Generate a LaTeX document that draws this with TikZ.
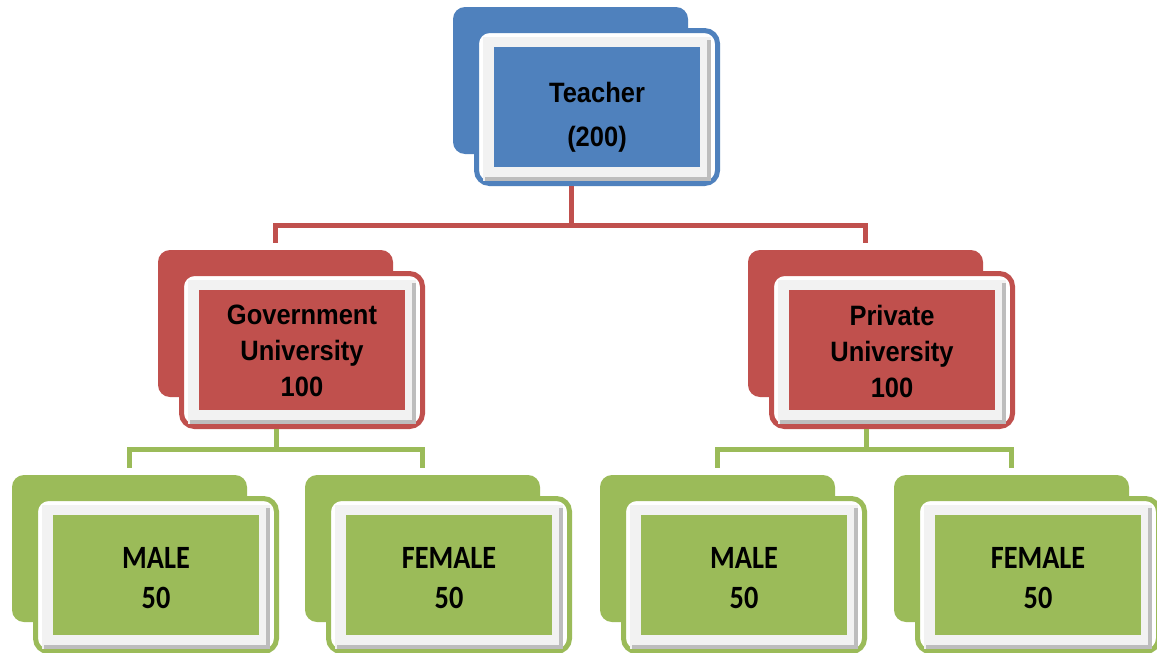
\documentclass[tikz,border=0pt]{standalone}
\usepackage{fontspec}
\setmainfont{Liberation Sans}
\newfontfamily\arialb[FakeStretch=0.91]{Liberation Sans}
\newfontfamily\calibb[FakeStretch=0.87]{Carlito}
\definecolor{cblue}{HTML}{4F81BD}
\definecolor{cred}{HTML}{C0504D}
\definecolor{cgreen}{HTML}{9BBB59}
\definecolor{cband}{HTML}{F2F2F2}
\definecolor{cshadow}{HTML}{BDBDBD}
\tikzset{
  backbox/.style={rectangle, anchor=north west, inner sep=0pt, outer sep=0pt,
    minimum width=235pt, minimum height=147pt, rounded corners=12pt},
  frontbox/.style={rectangle, anchor=north west, inner sep=0pt, outer sep=0pt,
    minimum width=241pt, minimum height=153pt, rounded corners=13pt, fill=white, line width=5pt},
  bandbox/.style={rectangle, anchor=north west, inner sep=0pt, outer sep=0pt,
    minimum width=228pt, minimum height=144pt, fill=cband},
  innerbox/.style={rectangle, anchor=north west, inner sep=0pt, outer sep=0pt,
    minimum width=206pt, minimum height=120pt},
  lbl/.style={align=center, inner sep=0pt, text=black},
  bluetxt/.style={font=\arialb\bfseries\fontsize{28}{44}\selectfont},
  redtxt/.style={font=\arialb\bfseries\fontsize{28}{36}\selectfont},
  greentxt/.style={font=\calibb\bfseries\fontsize{32.5}{40}\selectfont},
  redline/.style={draw=cred, line width=5pt},
  greenline/.style={draw=cgreen, line width=5pt},
}
% #1 name, #2 bx, #3 by, #4 colour, #5 text style, #6 text yshift, #7 text
\newcommand\orgunit[7]{%
  \node[backbox, fill=#4] (#1-b) at (#2,#3) {};
  \node[frontbox, draw=#4] (#1-f) at (#2+23.5,#3+23.5) {};
  \node[bandbox] (#1-g) at (#2+30,#3+30) {};
  \fill[cshadow] (#2+32,#3+170) rectangle (#2+258,#3+174);
  \fill[cshadow] (#2+254,#3+33) rectangle (#2+258,#3+174);
  \node[innerbox, fill=#4] (#1-i) at (#2+41,#3+40) {};
  \node[lbl, #5] (#1) at ([yshift=#6]#1-i.center) {#7};
}
\begin{document}
\begin{tikzpicture}[x=1pt, y=-1pt]
\useasboundingbox (0,0) rectangle (1157,653);
\fill[white] (0,0) rectangle (1157,653);

\orgunit{t}{453}{7}{cblue}{bluetxt}{-10pt}{Teacher\\(200)}
\orgunit{gu}{158}{250}{cred}{redtxt}{-1pt}{Government\\University\\100}
\orgunit{pu}{748}{250}{cred}{redtxt}{-1pt}{Private\\University\\100}
\orgunit{gm}{12}{475}{cgreen}{greentxt}{-3pt}{MALE\\50}
\orgunit{gf}{305}{475}{cgreen}{greentxt}{-3pt}{FEMALE\\50}
\orgunit{pm}{600}{475}{cgreen}{greentxt}{-3pt}{MALE\\50}
\orgunit{pf}{894}{475}{cgreen}{greentxt}{-3pt}{FEMALE\\50}

% connectors
\coordinate (j1) at (571,225);
\coordinate (j2) at (276,449);
\coordinate (j3) at (866,449);
\draw[redline] ([yshift=-2.5pt]t-f.south -| j1) -- (j1);
\draw[redline] (j1) -| ([yshift=7pt]gu-b.north);
\draw[redline] (j1) -| ([yshift=7pt]pu-b.north);
\draw[greenline] ([yshift=-2.5pt]gu-f.south -| j2) -- (j2);
\draw[greenline] (j2) -| ([yshift=7pt]gm-b.north);
\draw[greenline] (j2) -| ([yshift=7pt]gf-b.north);
\draw[greenline] ([yshift=-2.5pt]pu-f.south -| j3) -- (j3);
\draw[greenline] (j3) -| ([yshift=7pt]pm-b.north);
\draw[greenline] (j3) -| ([yshift=7pt]pf-b.north);
\end{tikzpicture}
\end{document}
